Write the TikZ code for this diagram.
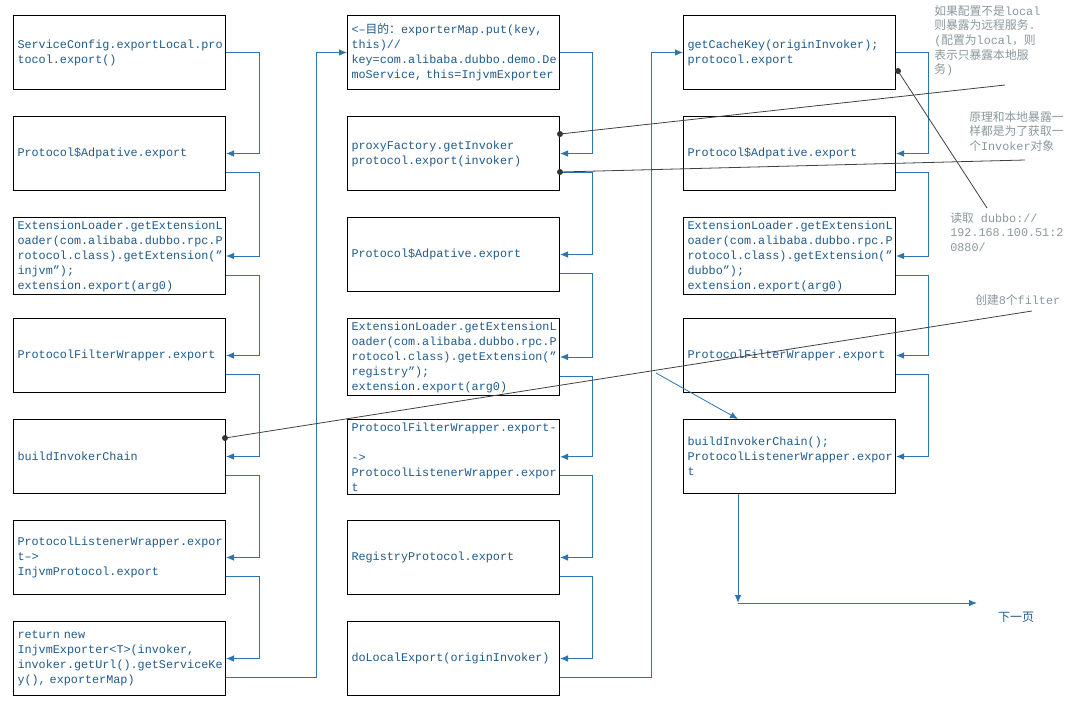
\documentclass[tikz,border=0pt]{standalone}
\usepackage{fontspec}
\setmainfont{Liberation Mono}
\newfontfamily\cjk{Noto Sans CJK SC}
\newcommand{\zh}[1]{{\cjk #1}}
\usetikzlibrary{arrows.meta,calc}
\definecolor{tblue}{HTML}{1F5A8C}
\definecolor{lblue}{HTML}{2E75B0}
\definecolor{ngray}{HTML}{8A979C}
\begin{document}
\begin{tikzpicture}[x=0.75pt,y=-0.75pt,
  box/.style={draw=black,line width=0.75pt,minimum width=159pt,minimum height=55.5pt,
    text width=153pt,inner sep=2.25pt,align=left,anchor=north west,text=tblue,
    font=\fontsize{8.84}{11.25}\selectfont},
  conn/.style={draw=lblue,line width=0.75pt,-{Latex[length=6pt,width=5pt]}},
  note/.style={draw=black!75,line width=0.6pt},
  dot/.style={circle,fill=black!80,inner sep=0pt,minimum size=4.5pt},
  ntext/.style={anchor=north west,align=left,text=ngray,inner sep=0pt,
    font=\fontsize{8.84}{11}\selectfont}]
\useasboundingbox (0,0) rectangle (1080,711);
% column 1
\node[box] (a1) at (13,15) {ServiceConfig.exportLocal.pro\\tocol.export()};
\node[box] (a2) at (13,116) {Protocol\$Adpative.export};
\node[box] (a3) at (13,217) {ExtensionLoader.getExtensionL\\oader(com.alibaba.dubbo.rpc.P\\rotocol.class).getExtension(”\\injvm”);\\extension.export(arg0)};
\node[box] (a4) at (13,318) {ProtocolFilterWrapper.export};
\node[box] (a5) at (13,419) {buildInvokerChain};
\node[box] (a6) at (13,520) {ProtocolListenerWrapper.expor\\t-->\\InjvmProtocol.export};
\node[box] (a7) at (13,621) {return new\\InjvmExporter<T>(invoker,\\invoker.getUrl().getServiceKe\\y(), exporterMap)};
% column 2
\node[box] (b1) at (347,15) {<--\zh{目的：}exporterMap.put(key,\\this)//\\key=com.alibaba.dubbo.demo.De\\moService, this=InjvmExporter};
\node[box] (b2) at (347,116) {proxyFactory.getInvoker\\protocol.export(invoker)};
\node[box] (b3) at (347,217) {Protocol\$Adpative.export};
\node[box] (b4) at (347,318) {ExtensionLoader.getExtensionL\\oader(com.alibaba.dubbo.rpc.P\\rotocol.class).getExtension(”\\registry”);\\extension.export(arg0)};
\node[box] (b5) at (347,419) {ProtocolFilterWrapper.export-\\->\\ProtocolListenerWrapper.expor\\t};
\node[box] (b6) at (347,520) {RegistryProtocol.export};
\node[box] (b7) at (347,621) {doLocalExport(originInvoker)};
% column 3
\node[box] (c1) at (683,15) {getCacheKey(originInvoker);\\protocol.export};
\node[box] (c2) at (683,116) {Protocol\$Adpative.export};
\node[box] (c3) at (683,217) {ExtensionLoader.getExtensionL\\oader(com.alibaba.dubbo.rpc.P\\rotocol.class).getExtension(”\\dubbo”);\\extension.export(arg0)};
\node[box] (c4) at (683,318) {ProtocolFilterWrapper.export};
\node[box] (c5) at (683,419) {buildInvokerChain();\\ProtocolListenerWrapper.expor\\t};
% chains
\draw[conn] (a1.east) -- ++(33,0) |- (a2.east);
\foreach \p/\q in {a2/a3,a3/a4,a4/a5,a5/a6,a6/a7}
  \draw[conn] ([yshift=-14.25pt]\p.east) -- ++(33,0) |- (\q.east);
\draw[conn] ([yshift=-14.25pt]a7.east) -- ++(90,0) |- (b1.west);
\draw[conn] (b1.east) -- ++(32,0) |- (b2.east);
\foreach \p/\q in {b2/b3,b3/b4,b4/b5,b5/b6,b6/b7}
  \draw[conn] ([yshift=-14.25pt]\p.east) -- ++(32,0) |- (\q.east);
\draw[conn] ([yshift=-14.25pt]b7.east) -- ++(91,0) |- (c1.west);
\draw[conn] (c1.east) -- ++(32,0) |- (c2.east);
\foreach \p/\q in {c2/c3,c3/c4,c4/c5}
  \draw[conn] ([yshift=-14.25pt]\p.east) -- ++(32,0) |- (\q.east);
\coordinate (s1) at (656,373);
\coordinate (c5t) at (738,419);
\draw[conn,line width=0.6pt] (s1) -- (c5t);
\coordinate (turn) at (738,603);
\coordinate (nextp) at (977,603);
\draw[conn] (c5.south -| turn) -- (turn);
\draw[conn] (turn) -- (nextp);
\node[text=tblue,font=\cjk\fontsize{9}{11}\selectfont,inner sep=0pt] (np) at (1016,617) {下一页};
% annotations
\node[ntext] (n1) at (934,5) {\zh{如果配置不是}local\\\zh{则暴露为远程服务}.\\(\zh{配置为}local\zh{，则}\\\zh{表示只暴露本地服}\\\zh{务})};
\node[ntext] (n2) at (969,111) {\zh{原理和本地暴露一}\\\zh{样都是为了获取一}\\\zh{个}Invoker\zh{对象}};
\node[ntext] (n3) at (950,212) {\zh{读取} dubbo://\\192.168.100.51:2\\0880/};
\node[ntext] (n4) at (975,294) {\zh{创建}8\zh{个}filter};
\coordinate (e1) at (987,208);
\coordinate (e2) at (1005,85);
\coordinate (e3) at (1025,160);
\coordinate (e4) at (1032,311);
\node[dot] (d1) at (898,71) {};
\node[dot] (d2) at (560,134) {};
\node[dot] (d3) at (560,172) {};
\node[dot] (d4) at (225,438) {};
\draw[note] (d1.center) -- (e1);
\draw[note] (d2.center) -- (e2);
\draw[note] (d3.center) -- (e3);
\draw[note] (d4.center) -- (e4);
\end{tikzpicture}
\end{document}
